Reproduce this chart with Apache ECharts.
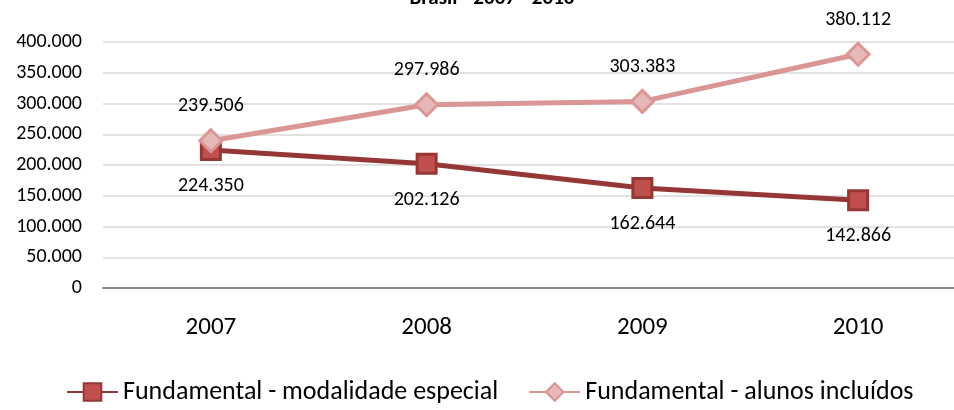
<!DOCTYPE html>
<html>
<head>
<meta charset="utf-8">
<script src="https://cdn.jsdelivr.net/npm/echarts@6/dist/echarts.min.js"></script>
<style>
  html, body { margin: 0; padding: 0; background: #fff; overflow: hidden; }
  #main { width: 966px; height: 410px; }
</style>
</head>
<body>
<div id="main"></div>
<script>
// dados
const anos = ['2007', '2008', '2009', '2010'];
const modalidadeEspecial = [224350, 202126, 162644, 142866];
const alunosIncluidos = [239506, 297986, 303383, 380112];
const nomes = ['Fundamental - modalidade especial', 'Fundamental - alunos incluídos'];

const fonte = 'Carlito, Lato, "Liberation Sans", sans-serif';

// formata 224350 -> 224.350
const fmt = (v) => {
  if (v === 0) return '0';
  return String(v).replace(/\B(?=(\d{3})+(?!\d))/g, '.');
};

// o gráfico original é cortado à direita, por isso o div é mais largo que a janela
const myChart = echarts.init(document.getElementById('main'));

const option = {
  animation: false,
  title: {
    text: 'Brasil - 2007 - 2010',
    left: 487,
    top: -17,
    textAlign: 'center',
    textStyle: { fontFamily: fonte, fontSize: 21, fontWeight: 'bold', color: '#000' }
  },
  grid: {
    left: 103,
    right: 0,
    top: 42,
    bottom: 122
  },
  legend: {
    bottom: 0,
    left: 61,
    itemWidth: 51,
    itemHeight: 22,
    itemGap: 30,
    textStyle: { fontFamily: fonte, fontSize: 26, color: '#000' },
    data: nomes
  },
  xAxis: {
    type: 'category',
    data: anos,
    axisTick: { show: false },
    axisLine: { lineStyle: { color: '#868686', width: 2 } },
    axisLabel: { margin: 27, fontFamily: fonte, fontSize: 25, color: '#000' }
  },
  yAxis: {
    type: 'value',
    min: 0,
    max: 400000,
    interval: 50000,
    axisLine: { show: false },
    axisTick: { show: false },
    splitLine: { lineStyle: { color: '#d9d9d9', width: 1.5 } },
    axisLabel: {
      margin: 21,
      fontFamily: fonte,
      fontSize: 20,
      color: '#000',
      formatter: fmt
    }
  },
  series: [
    {
      name: nomes[0],
      type: 'line',
      data: modalidadeEspecial,
      symbol: 'rect',
      symbolSize: 19,
      lineStyle: { color: '#953735', width: 5 },
      itemStyle: { color: '#c0504d', borderColor: '#953735', borderWidth: 3 },
      label: {
        show: true,
        position: 'bottom',
        distance: 15,
        fontFamily: fonte,
        fontSize: 20,
        color: '#000',
        formatter: (p) => fmt(p.value)
      },
      z: 2
    },
    {
      name: nomes[1],
      type: 'line',
      data: alunosIncluidos,
      symbol: 'diamond',
      symbolSize: 22,
      lineStyle: { color: '#d99694', width: 5 },
      itemStyle: { color: '#e6b9b8', borderColor: '#d99694', borderWidth: 3 },
      label: {
        show: true,
        position: 'top',
        distance: 12,
        fontFamily: fonte,
        fontSize: 20,
        color: '#000',
        formatter: (p) => fmt(p.value)
      },
      z: 3
    }
  ]
};

myChart.setOption(option);
</script>
</body>
</html>
